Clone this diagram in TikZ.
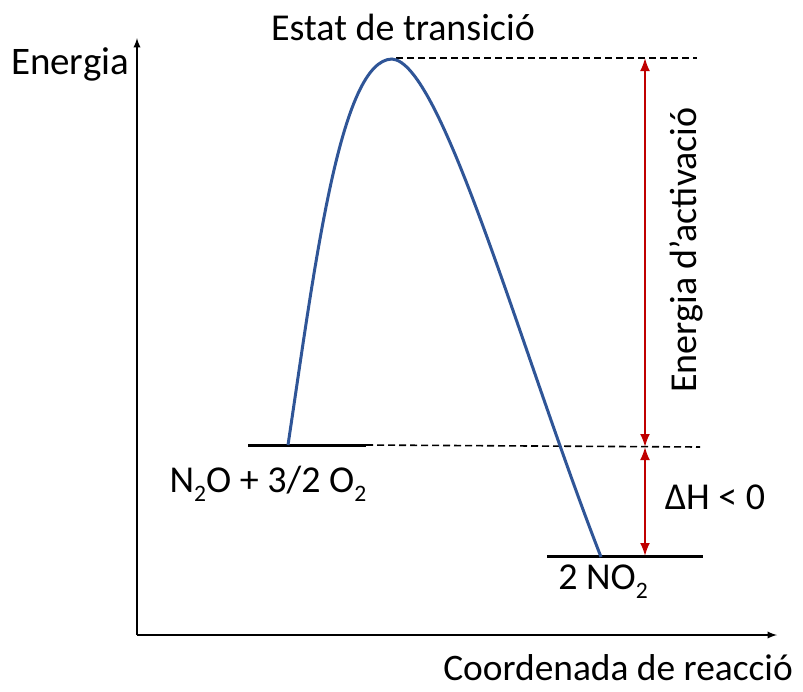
\documentclass[tikz,border=0pt]{standalone}
\usepackage{fontspec}
\setmainfont{Carlito}
\usetikzlibrary{arrows.meta}
\definecolor{curveblue}{RGB}{47,85,151}
\definecolor{arrowred}{RGB}{192,0,0}
\newcommand{\chemsub}[1]{\raisebox{-0.5ex}{\scalebox{0.62}{#1}}}
\tikzset{
  axis/.style={-latex,line width=2.2pt},
  level/.style={line width=3pt},
  guide/.style={line width=1.6pt,dash pattern=on 7pt off 4pt},
  gap/.style={{Latex[length=13pt,width=10pt]}-{Latex[length=13pt,width=10pt]},arrowred,line width=2pt},
  lbl/.style={inner sep=0pt,font=\fontsize{38}{45}\selectfont}
}
\begin{document}
\begin{tikzpicture}[x=1pt,y=-1pt]
    \useasboundingbox (0,0) rectangle (803,691);
    % axes
    \coordinate (O) at (137,635);
    \draw[axis] (O) -- (137,38) coordinate (ytip);
    \draw[axis] (O) -- (777,635) coordinate (xtip);
    \node[lbl,font=\fontsize{39}{46}\selectfont] (ylab) at (70,64) {Energia};
    \node[lbl,font=\fontsize{37.4}{45}\selectfont] (xlab) at (618,668) {Coordenada de reacció};

    % levels
    \coordinate (reacL) at (248,445);
    \coordinate (reacR) at (366,445);
    \coordinate (prodL) at (547,556);
    \coordinate (prodR) at (703,556);
    \draw[level] (reacL) -- (reacR);
    \draw[level] (prodL) -- (prodR);
    \draw[guide] (reacR) -- (700,447) coordinate (reacE);
    \draw[guide] (396,58) coordinate (tsL) -- (697,58) coordinate (tsE);

    % reaction path
    \coordinate (start) at (288,445);
    \coordinate (peak) at (392,59);
    \coordinate (end) at (601,557);
    \draw[curveblue,line width=3pt] (start) .. controls (315,265) and (340,60) .. (peak)
      .. controls (442,62) and (521,352) .. (end);

    % energy arrows
    \coordinate (ea1) at (645,58);
    \coordinate (ea2) at (645,447);
    \coordinate (ea3) at (645,556);
    \draw[gap] (ea1) -- (ea2);
    \draw[gap] (ea2) -- (ea3);

    \node[lbl] (ts) at (403,27) {Estat de transició};
    \node[lbl,rotate=90] (ea) at (686,250) {Energia d’activació};
    \node[lbl] (dh) at (715,497) {ΔH < 0};
    \node[lbl] (reac) at (268,484) {N\chemsub{2}O + 3/2 O\chemsub{2}};
    \node[lbl] (prod) at (603,582) {2 NO\chemsub{2}};
\end{tikzpicture}
\end{document}
